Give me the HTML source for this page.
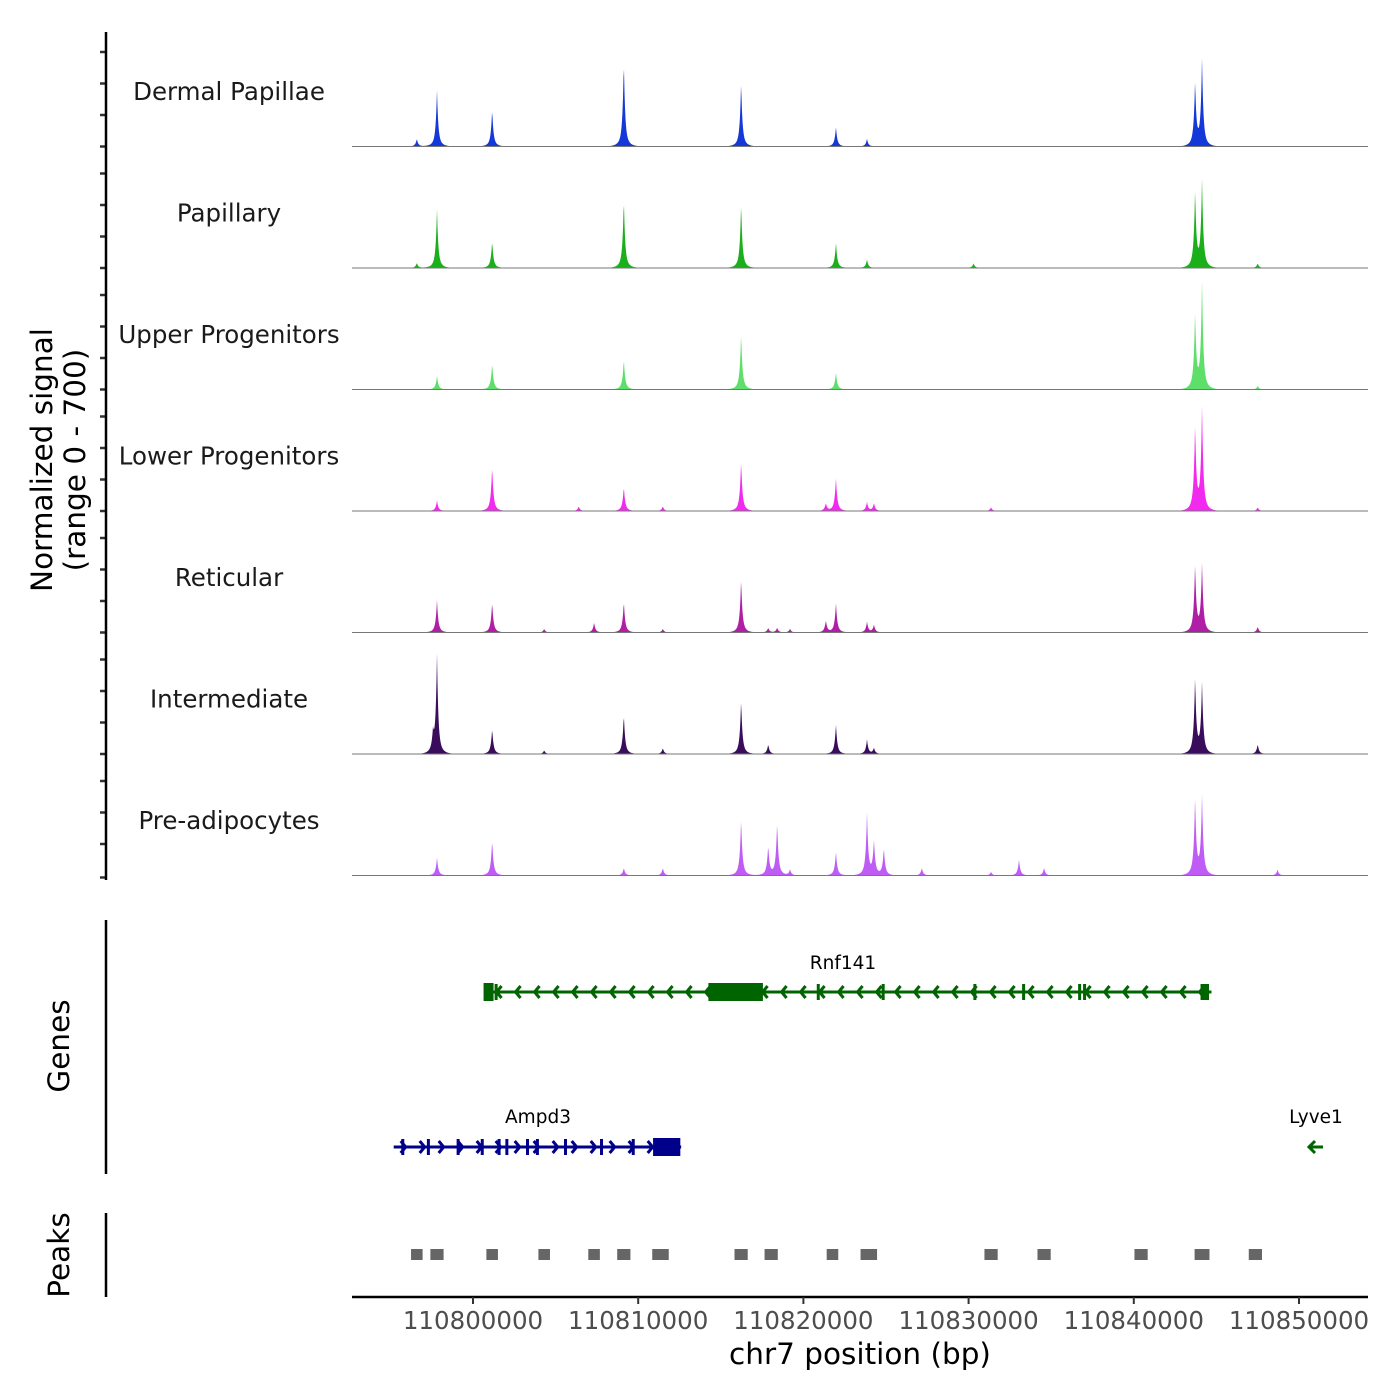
<!DOCTYPE html>
<html><head><meta charset="utf-8"><style>
body{margin:0;background:#fff;}
svg{display:block;font-family:"DejaVu Sans","Liberation Sans",sans-serif;}
</style></head><body>
<svg id="chart" width="1400" height="1400" viewBox="0 0 1400 1400" xmlns="http://www.w3.org/2000/svg">
<g id="tracks"></g>
<g id="ticks"></g>
<line x1="106" y1="32" x2="106" y2="880" stroke="#000" stroke-width="2.5"/>
<text transform="translate(52,460) rotate(-90)" text-anchor="middle" font-size="29.5" fill="#000"><tspan x="0" dy="0">Normalized signal</tspan><tspan x="0" dy="33">(range 0 - 700)</tspan></text>
<line x1="106" y1="920" x2="106" y2="1174" stroke="#000" stroke-width="2.5"/>
<text transform="translate(69,1046) rotate(-90)" text-anchor="middle" font-size="29.5">Genes</text>
<line x1="106" y1="1213" x2="106" y2="1297" stroke="#000" stroke-width="2.5"/>
<text transform="translate(69,1255) rotate(-90)" text-anchor="middle" font-size="29.5">Peaks</text>
<g id="genes"></g>
<g id="peaks"></g>
<line x1="352" y1="1297" x2="1368" y2="1297" stroke="#000" stroke-width="2.5"/>
<g id="xticks"></g>
<text x="860" y="1364" text-anchor="middle" font-size="29.5">chr7 position (bp)</text>
</svg>
<script>
const trackNames = ["Dermal Papillae","Papillary","Upper Progenitors","Lower Progenitors","Reticular","Intermediate","Pre-adipocytes"];
const trackColors = ["#1538d8","#1bb01b","#5ddf6a","#f229ee","#b01ea6","#3a0c5c","#bf5cf6"];
// peak positions (bp) and heights (signal 0-700) per track
const peakPos1 = [110796600,110797820,110801160,110809130,110816230,110821970,110823850,110843710,110844130];
const peakVal1 = [45,330,220,505,380,115,45,375,505];
const peakPos2 = [110796600,110797820,110801160,110809130,110816230,110821970,110823850,110830300,110843710,110844130,110847500];
const peakVal2 = [30,345,160,410,380,150,50,28,450,510,28];
const peakPos3 = [110797820,110801160,110809130,110816230,110821970,110843710,110844130,110847500];
const peakVal3 = [80,155,180,330,100,440,625,22];
const peakPos4 = [110797820,110801160,110806400,110809130,110811490,110816230,110821360,110821970,110823850,110824270,110831360,110843710,110844130,110847500];
const peakVal4 = [62,265,28,145,28,295,45,195,52,45,22,495,600,22];
const peakPos5 = [110797820,110801160,110804310,110807330,110809130,110811490,110816230,110817870,110818410,110819190,110821360,110821970,110823850,110824270,110843710,110844130,110847500];
const peakVal5 = [190,180,22,58,185,22,318,28,28,22,70,175,62,45,395,395,35];
const peakPos6 = [110797580,110797820,110801160,110804310,110809130,110811490,110816230,110817870,110821970,110823850,110824270,110843710,110844130,110847500];
const peakVal6 = [105,578,150,22,235,35,318,58,175,85,35,445,410,58];
const peakPos7 = [110797820,110801160,110809130,110811490,110816230,110817870,110818410,110819190,110821970,110823850,110824270,110824870,110827170,110831360,110833050,110834570,110843710,110844130,110848700];
const peakVal7 = [105,210,45,45,335,175,312,35,140,358,200,162,45,22,92,45,450,460,35];
const trackPeakPos = [peakPos1,peakPos2,peakPos3,peakPos4,peakPos5,peakPos6,peakPos7];
const trackPeakVal = [peakVal1,peakVal2,peakVal3,peakVal4,peakVal5,peakVal6,peakVal7];

const xTicks = [110800000,110810000,110820000,110830000,110840000,110850000];
const peakRegions = [110796600,110797820,110801160,110804310,110807330,110809130,110811350,110816230,110818050,110821760,110823960,110831360,110834570,110840440,110844130,110847360];
const peakWidths = [700,800,700,700,700,800,1000,800,800,700,1000,800,800,800,900,800];

const ampd3Exons = [110795750,110797300,110799100,110800560,110801580,110802050,110803300,110803900,110805600,110807780,110809700];
const rnf141Exons = [110801400,110820900,110824830,110830380,110833330,110836720,110837020,110844130];

const NS="http://www.w3.org/2000/svg";
const X0=352,X1=1368,B0=110792676,B1=110854177;
function xs(bp){return X0+(bp-B0)/(B1-B0)*(X1-X0);}
const TH=121.5, TOP=25;
function ys(v,t){const base=TOP+TH*(t+1);return base-v/700*TH;}
function mk(tag,attrs,parent){const e=document.createElementNS(NS,tag);for(const k in attrs)e.setAttribute(k,attrs[k]);parent.appendChild(e);return e;}

const tracks=document.getElementById('tracks');
trackNames.forEach((nm,t)=>{
  const g=mk('g',{},tracks);
  
  
  const lbl=mk('text',{x:229,y:TOP+TH*t+75,'text-anchor':'middle','font-size':'24.5',fill:'#1a1a1a'},g);
  lbl.textContent=nm;
  
  
  const base=TOP+TH*(t+1);
  const pos=trackPeakPos[t],val=trackPeakVal[t];
  let d='M'+X0+','+base;
  for(let px=X0;px<=X1;px+=0.5){
    let v=0;
    for(let i=0;i<pos.length;i++){
      const dx=Math.abs(px-xs(pos[i]));
      v+=val[i]*(Math.exp(-dx/1.2)*0.82+Math.exp(-dx/4)*0.18);
    }
    d+=' L'+px+','+ys(Math.min(v,700),t).toFixed(2);
  }
  d+=' L'+X1+','+base+' Z';
  const p=mk('path',{d:d,fill:trackColors[t]},g);
  
  
  const bl=mk('line',{x1:X0,x2:X1,y1:base,y2:base,stroke:'#777','stroke-width':1},g);
  
  
});
const ticks=document.getElementById('ticks');
for(let t=0;t<7;t++){for(let k=0;k<4;k++){
  const y=TOP+TH*(t+1)-k*31.5+ (t==6&&k==0?2:0);
  const l=mk('line',{x1:100,x2:106,y1:y,y2:y,stroke:'#333','stroke-width':2.5},ticks);
  
  
}}
const xt=document.getElementById('xticks');
xTicks.forEach(v=>{
  const x=xs(v);
  const l=mk('line',{x1:x,x2:x,y1:1297,y2:1304,stroke:'#333','stroke-width':2},xt);
  
  
  const tx=mk('text',{x:x,y:1329,'text-anchor':'middle','font-size':'24.5',fill:'#4d4d4d'},xt);
  tx.textContent=v;
  
  
});
const pk=document.getElementById('peaks');
peakRegions.forEach((c,i)=>{
  const x0=xs(c-peakWidths[i]/2),x1=xs(c+peakWidths[i]/2);
  const r=mk('rect',{x:x0,y:1249,width:x1-x0,height:11,fill:'#666'},pk);
  
  
});
const gn=document.getElementById('genes');
function gene(name,start,end,y,color,dir,exons,cds,label){
  const g=mk('g',{},gn);
  
  
  const a=xs(start),b=xs(end);
  mk('line',{x1:a,x2:b,y1:y,y2:y,stroke:color,'stroke-width':3},g);
  for(let x=a+12;x<b-6;x+=19){
    const s=dir>0?-5:5;
    mk('polyline',{points:(x+s)+','+(y-6)+' '+x+','+y+' '+(x+s)+','+(y+6),fill:'none',stroke:color,'stroke-width':3},g);
  }
  exons.forEach(e=>{const x=xs(e);mk('rect',{x:x-1.5,y:y-8,width:3,height:16,fill:color},g);});
  if(cds){const c0=xs(cds[0]),c1=xs(cds[1]);mk('rect',{x:c0,y:y-9,width:c1-c0,height:18,fill:color},g);}
  const t=mk('text',{x:label[0],y:label[1],'text-anchor':'middle','font-size':'18.5',fill:'#000'},g);
  t.textContent=name;
  
  
}
gene('Rnf141',110800700,110844700,992,'#006400',-1,rnf141Exons,[110814250,110817550],[843,969]);
mk('rect',{x:xs(110800700)-1,y:983,width:10,height:18,fill:'#006400'},gn);
mk('rect',{x:xs(110844130),y:984,width:7,height:16,fill:'#006400'},gn);
gene('Ampd3',110795200,110812600,1147,'#00008b',1,ampd3Exons,[110810900,110812550],[538,1123]);
const lv=mk('g',{},gn);


mk('line',{x1:1309,x2:1323,y1:1147,y2:1147,stroke:'#006400','stroke-width':3},lv);
mk('polyline',{points:'1315,1141 1309,1147 1315,1153',fill:'none',stroke:'#006400','stroke-width':3},lv);
const lt=mk('text',{x:1316,y:1123,'text-anchor':'middle','font-size':'18.5'},lv);
lt.textContent='Lyve1';


</script>
</body></html>
